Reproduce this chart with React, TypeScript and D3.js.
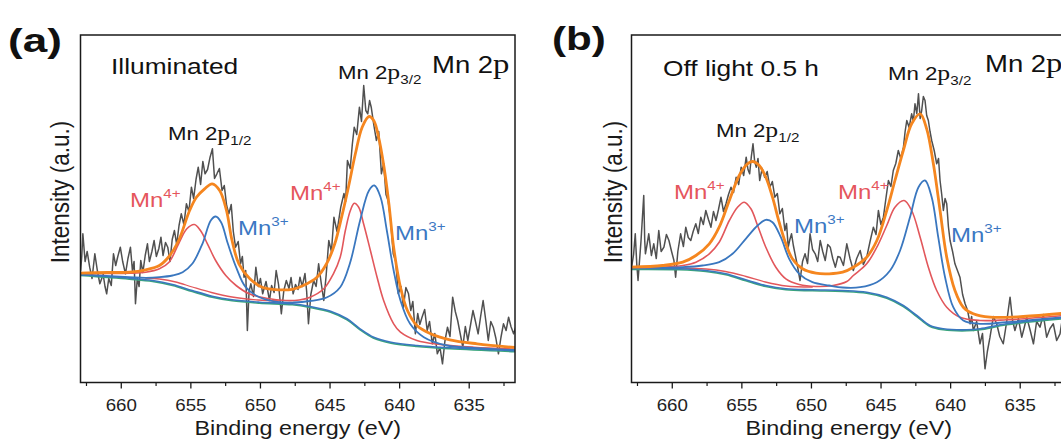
import React from "react";
import * as d3 from "d3";

type P = [number, number];

// ---------- axis ----------
const xTicks = [660, 655, 650, 645, 640, 635];
const xMinorTicks = [662.5, 657.5, 652.5, 647.5, 642.5, 637.5, 632.5];
const xDomain: [number, number] = [662.93, 631.71];
const yDomain: [number, number] = [0, 347.5];

// ---------- panel (a) Illuminated : [binding energy eV, intensity a.u.] ----------
const aRaw: P[] = [
  [662.92, 112], [662.84, 126], [662.76, 148.7], [662.6, 121], [662.45, 131], [662.27, 115.3], [662.1, 104],
  [661.9, 128.7], [661.72, 112], [661.54, 98.7], [661.3, 108], [661.17, 96], [661.05, 88.7], [660.9, 104],
  [660.72, 97], [660.56, 128.7], [660.4, 117], [660.25, 126], [660.07, 135.3], [659.9, 121], [659.7, 108.7],
  [659.52, 124], [659.34, 135.3], [659.2, 112], [659.08, 121], [658.98, 78.7], [658.85, 104], [658.72, 96],
  [658.6, 122], [658.45, 110], [658.28, 127], [658.12, 138.7], [657.98, 121], [657.8, 131], [657.64, 142],
  [657.48, 126], [657.3, 134], [657.15, 145.3], [657.0, 127], [656.82, 140], [656.66, 135.3], [656.5, 121],
  [656.34, 143], [656.18, 152], [656.02, 138], [655.85, 157], [655.69, 168.7], [655.5, 158], [655.32, 178.7],
  [655.14, 171], [654.96, 195.3], [654.8, 184], [654.63, 203], [654.47, 215.3], [654.3, 198], [654.14, 221],
  [653.98, 208.7], [653.8, 213], [653.62, 225.3], [653.45, 233.7], [653.3, 204], [653.13, 208.7], [652.95, 214],
  [652.76, 192], [652.6, 197], [652.43, 177], [652.27, 168.7], [652.1, 178], [651.95, 151], [651.79, 135.3],
  [651.6, 141], [651.43, 118.7], [651.3, 126], [651.18, 105.3], [651.06, 112], [650.94, 52], [650.82, 91],
  [650.69, 98.7], [650.5, 86], [650.33, 115.3], [650.15, 96], [650.0, 104], [649.84, 88.7], [649.6, 101],
  [649.48, 92], [649.35, 82], [649.2, 97], [649.02, 90], [648.87, 112], [648.7, 98], [648.5, 68.7], [648.32, 92],
  [648.14, 102], [647.95, 94], [647.8, 105], [647.65, 88.7], [647.48, 98], [647.3, 93], [647.16, 105.3],
  [647.0, 96], [646.8, 109], [646.68, 91], [646.55, 58.7], [646.38, 88], [646.18, 102], [646.0, 96],
  [645.82, 118.7], [645.63, 99], [645.45, 82], [645.28, 107], [645.09, 142], [644.9, 131], [644.72, 165.3],
  [644.5, 151], [644.23, 175.3], [644.0, 189], [643.88, 181], [643.75, 222], [643.55, 214], [643.4, 238],
  [643.26, 255.3], [643.08, 248], [642.89, 275.3], [642.74, 261], [642.58, 297], [642.43, 272], [642.29, 268.7],
  [642.16, 282], [642.04, 275.3], [641.86, 258], [641.67, 242], [641.5, 251], [641.31, 208.7], [641.15, 219],
  [640.98, 188], [640.83, 182], [640.65, 163], [640.46, 128.7], [640.28, 121], [640.1, 88.7], [639.9, 96],
  [639.73, 75.3], [639.55, 95], [639.36, 88.7], [639.2, 72], [639.05, 81], [638.87, 48.7], [638.7, 69],
  [638.55, 58], [638.39, 65.3], [638.2, 73], [638.02, 52], [637.85, 61], [637.65, 38.7], [637.47, 49],
  [637.29, 28.7], [637.1, 35], [636.92, 18.7], [636.75, 41], [636.56, 55.3], [636.38, 46], [636.19, 85.3],
  [636.0, 71], [635.83, 62], [635.65, 49], [635.46, 35.3], [635.28, 56], [635.1, 42], [634.9, 58], [634.73, 72],
  [634.55, 61], [634.36, 48.7], [634.18, 66], [634.0, 82], [633.8, 61], [633.63, 42], [633.45, 61], [633.27, 55.3],
  [633.08, 44], [632.9, 28.7], [632.72, 45], [632.54, 58.7], [632.35, 52], [632.17, 65.3], [632.0, 56],
  [631.81, 48.7], [631.62, 57],
];
const aEnvelope: P[] = [
  [663, 109.3], [661.0, 110], [659.42, 110.3], [658.24, 112.7], [657.26, 117], [656.57, 126], [655.88, 142],
  [655.09, 172], [654.6, 185.3], [654.01, 193.7], [653.47, 198.7], [652.93, 192], [652.44, 172], [652.04, 142],
  [651.55, 118.7], [650.76, 103.7], [649.88, 95.3], [648.7, 92.7], [647.71, 93.2], [646.92, 97], [645.94, 105.3],
  [645.25, 118.7], [644.66, 138.7], [644.17, 165.3], [643.68, 195.3], [643.18, 228.7], [642.69, 255.3],
  [642.2, 266], [641.86, 262], [641.51, 245.3], [641.12, 215.3], [640.77, 178.7], [640.43, 135.3], [639.94, 95.3],
  [639.44, 72], [638.76, 57], [637.77, 48.7], [636.39, 42.7], [634.43, 38.7], [631.7, 35],
];
const aMn4: P[] = [
  [663, 108.7], [661.0, 109], [659.42, 109.3], [658.24, 110.3], [657.26, 113.7], [656.57, 120.3], [655.88, 138.7],
  [655.29, 153.7], [654.75, 158], [654.31, 152], [653.81, 138.7], [653.22, 122], [652.49, 107], [651.75, 97],
  [650.81, 88.7], [649.58, 84.3], [648.2, 82], [647.22, 82.5], [646.43, 85.3], [645.45, 93.7], [644.76, 108.7],
  [644.27, 125.3], [643.9, 152], [643.54, 172], [643.26, 179.3], [642.94, 175.3], [642.59, 158.7], [642.1, 132],
  [641.62, 105.3], [641.15, 82], [640.43, 58.7], [639.94, 50.3], [638.76, 42], [637.08, 38], [634.67, 35.3],
  [631.7, 33.5],
];
const aMn3: P[] = [
  [663, 108], [659.42, 105.3], [658.24, 104.7], [657.26, 105.3], [656.32, 107], [655.59, 110.3], [654.9, 118.7],
  [654.17, 138.7], [653.57, 162], [653.22, 166], [652.83, 160.3], [652.34, 138.7], [651.75, 115.3], [651.06, 95.3],
  [650.07, 85.3], [648.65, 80.3], [647.61, 80], [646.43, 81.5], [645.25, 85], [644.27, 95.3], [643.58, 118.7],
  [642.84, 162], [642.2, 192], [641.81, 197], [641.37, 185.3], [640.92, 152], [640.43, 112], [639.94, 82],
  [639.25, 58.7], [638.26, 45.3], [636.59, 37], [634.43, 34.3], [631.7, 32.5],
];
const aMn4Tail: P[] = [
  [658.24, 104.5], [657.26, 103.5], [656.08, 100.5], [654.9, 95.5], [653.52, 90], [652.04, 85.5], [650.17, 82.5],
  [648.7, 81.5],
];
const aBackground: P[] = [
  [663, 108], [659.42, 104.3], [657.75, 102], [656.32, 98], [654.9, 92], [653.47, 86.3], [652.04, 82.7],
  [650.07, 80.3], [647.71, 78.7], [646.43, 76], [644.96, 71.3], [643.78, 63.7], [642.84, 53.7], [641.86, 45.3],
  [640.62, 40.3], [638.76, 37], [636.39, 34.7], [631.7, 31.8],
];

// ---------- panel (b) Off light 0.5 h ----------
const bRaw: P[] = [
  [662.92, 115.3], [662.78, 128], [662.66, 148.7], [662.55, 118], [662.46, 102], [662.25, 141], [662.05, 187],
  [661.98, 142], [661.93, 128.7], [661.8, 139], [661.69, 148.7], [661.5, 127], [661.33, 138.7], [661.15, 124],
  [660.97, 152], [660.8, 131], [660.6, 135.3], [660.42, 148], [660.24, 142], [660.05, 131], [659.88, 122],
  [659.76, 105.3], [659.6, 131], [659.4, 148.7], [659.2, 136], [659.03, 155.3], [658.85, 145], [658.67, 142],
  [658.5, 151], [658.31, 158.7], [658.13, 149], [657.95, 165.3], [657.77, 158], [657.59, 172], [657.4, 163],
  [657.22, 155.3], [657.04, 171], [656.86, 162], [656.68, 173], [656.5, 185.3], [656.32, 171], [656.14, 178.7],
  [655.96, 188], [655.78, 195.3], [655.6, 190], [655.41, 205.3], [655.23, 198], [655.05, 215.3], [654.87, 207],
  [654.69, 225.3], [654.56, 213], [654.44, 208.7], [654.32, 226], [654.2, 238.7], [654.08, 221], [653.96, 215.3],
  [653.84, 224], [653.72, 202], [653.54, 214], [653.36, 205.3], [653.18, 211], [652.99, 195.3], [652.81, 201],
  [652.63, 185.3], [652.45, 189], [652.27, 168.7], [652.09, 174], [651.91, 152], [651.79, 159], [651.67, 135.3],
  [651.55, 143], [651.43, 148.7], [651.3, 137], [651.18, 128.7], [651.0, 116], [650.82, 102], [650.64, 121],
  [650.46, 128.7], [650.28, 119], [650.1, 148.7], [649.92, 133], [649.73, 128.7], [649.55, 121], [649.37, 142],
  [649.19, 131], [649.01, 122], [648.83, 138], [648.65, 135.3], [648.47, 124], [648.28, 115.3], [648.1, 126],
  [647.94, 125.3], [647.7, 117], [647.46, 138.7], [647.23, 124], [646.99, 112], [646.75, 124], [646.5, 132],
  [646.27, 118], [646.03, 125.3], [645.79, 141], [645.55, 155.3], [645.36, 148], [645.19, 172], [645.01, 158],
  [644.83, 165.3], [644.65, 184], [644.47, 202], [644.29, 196], [644.12, 212], [643.94, 219], [643.76, 232],
  [643.58, 224], [643.39, 235.3], [643.27, 251], [643.15, 262], [642.98, 255], [642.8, 268.7], [642.68, 261],
  [642.56, 278.7], [642.43, 269], [642.31, 288.7], [642.19, 264], [642.08, 272], [641.96, 286], [641.84, 282],
  [641.72, 267], [641.6, 262], [641.48, 251], [641.36, 242], [641.18, 232], [641.0, 218.7], [640.87, 224],
  [640.76, 202], [640.64, 188], [640.52, 172], [640.4, 184], [640.28, 178.7], [640.16, 156], [640.04, 142],
  [639.86, 131], [639.69, 118.7], [639.51, 112], [639.33, 105.3], [639.14, 88], [638.96, 78.7], [638.78, 72],
  [638.6, 58.7], [638.49, 66], [638.37, 52], [638.13, 61], [637.89, 38.7], [637.71, 49], [637.53, 13.7],
  [637.36, 31], [637.17, 45.3], [636.93, 66], [636.69, 58.7], [636.47, 46], [636.22, 38.7], [635.97, 61],
  [635.73, 85.3], [635.55, 62], [635.38, 52], [635.13, 64], [634.89, 45.3], [634.71, 55], [634.53, 65.3],
  [634.28, 52], [634.05, 38.7], [633.82, 61], [633.58, 55.3], [633.34, 68], [633.1, 45.3], [632.86, 54],
  [632.62, 58.7], [632.38, 42], [632.14, 48.7], [631.98, 63], [631.83, 60], [631.71, 52],
];
const bEnvelope: P[] = [
  [663, 115.3], [660.69, 117], [659.25, 120.3], [658.3, 127], [657.34, 138.7], [656.63, 155.3], [655.9, 182],
  [655.19, 207], [654.6, 218.7], [654.24, 221], [653.75, 217], [653.28, 205.3], [652.8, 185.3], [652.32, 160.3],
  [651.84, 138.7], [651.37, 123.7], [650.64, 113.7], [649.68, 109.3], [648.73, 108.7], [647.76, 110.3],
  [646.99, 115.3], [646.03, 125.3], [645.3, 142], [644.59, 172], [644.0, 202], [643.4, 232], [642.8, 258.7],
  [642.19, 268.7], [641.72, 253.7], [641.24, 218.7], [640.76, 172], [640.28, 125.3], [639.69, 92], [639.09, 75.3],
  [638.37, 68.7], [637.17, 65.3], [634.78, 66], [631.71, 69.5],
];
const bMn4: P[] = [
  [663, 114.7], [660.69, 115.3], [659.25, 117], [658.3, 120.3], [657.34, 128.7], [656.63, 140.3], [655.9, 162],
  [655.31, 175.3], [654.83, 180.3], [654.35, 173.7], [653.87, 157], [653.28, 135.3], [652.56, 115.3],
  [651.84, 103.7], [650.88, 98], [649.68, 96], [648.45, 97], [647.46, 101], [646.99, 107], [646.03, 118.7],
  [645.3, 135.3], [644.59, 157], [644.0, 175.3], [643.34, 182], [642.8, 172], [642.19, 145.3], [641.6, 115.3],
  [641.0, 92], [640.28, 75.3], [639.33, 65.3], [637.89, 62], [635.97, 62.7], [631.71, 67.2],
];
const bMn3: P[] = [
  [663, 114.7], [660.69, 114.7], [659.25, 115.3], [657.83, 117], [656.63, 120.3], [655.67, 128.7], [654.72, 143.7],
  [653.87, 157], [653.28, 162.7], [652.8, 160.3], [652.2, 145.3], [651.6, 123.7], [650.88, 108.7], [649.93, 100.3],
  [648.73, 97], [647.76, 95], [646.5, 95.3], [645.3, 100.3], [644.35, 112], [643.63, 132], [642.92, 165.3],
  [642.31, 195.3], [641.84, 202], [641.36, 185.3], [640.89, 145.3], [640.4, 105.3], [639.81, 75.3], [639.09, 62],
  [637.89, 58.7], [635.97, 60.3], [631.71, 65.5],
];
const bMn4Tail: P[] = [
  [659.55, 114.5], [657.57, 113.5], [656.18, 111], [654.7, 106], [653.31, 100.5], [651.82, 96.5], [649.94, 95.5],
];
const bBackground: P[] = [
  [663, 114], [659.5, 113.7], [657.59, 112], [656.15, 108.7], [654.72, 102.7], [653.28, 97], [651.84, 93.7],
  [649.93, 92.7], [647.76, 92], [646.03, 90.3], [644.59, 85.3], [643.4, 77], [642.43, 67], [641.48, 57],
  [640.53, 53.7], [638.84, 52.7], [637.89, 53.7], [635.97, 58.7], [631.71, 65],
];

// ---------- styling ----------
const SX = 1.17;
const SANS = "'Liberation Sans', Arial, Helvetica, sans-serif";
const SERIF = "'Liberation Serif', 'Times New Roman', serif";
const C_RAW = "#505050";
const C_FIT = "#f5861f";
const C_MN4 = "#e2575b";
const C_MN3 = "#3a77bf";
const C_BG2 = "#3aa57c";
const C_LBL4 = "#e5565c";
const C_LBL3 = "#3b78c3";

const TOP = 35;
const BOTTOM = 382.5;

type LabelPos = [number, number];
interface PanelCfg {
  id: string;
  left: number;
  right: number;
  tag: string;
  tagPos: LabelPos;
  cond: string;
  condPos: LabelPos;
  titlePos: LabelPos;
  p32Pos: LabelPos;
  p12Pos: LabelPos;
  mn4aPos: LabelPos;
  mn3aPos: LabelPos;
  mn4bPos: LabelPos;
  mn3bPos: LabelPos;
  yTitleX: number;
  raw: P[];
  env: P[];
  mn4: P[];
  mn3: P[];
  tail: P[];
  bg: P[];
}

function S({ x, y, children, rotate }: { x: number; y: number; children: React.ReactNode; rotate?: boolean }) {
  return (
    <g transform={`translate(${x},${y}) scale(${SX},1)${rotate ? " rotate(-90)" : ""}`}>{children}</g>
  );
}

function Spec({ pos, sub }: { pos: LabelPos; sub: string }) {
  return (
    <S x={pos[0]} y={pos[1]}>
      <text fontFamily={SANS} fontSize={19} fill="#151515">
        <tspan>Mn 2</tspan>
        <tspan fontFamily={SERIF} fontSize={22}>p</tspan>
        <tspan fontSize={13} dy={5}>{sub}</tspan>
      </text>
    </S>
  );
}

function Ion({ pos, charge, color }: { pos: LabelPos; charge: string; color: string }) {
  return (
    <S x={pos[0]} y={pos[1]}>
      <text fontFamily={SANS} fontSize={20.5} fill={color}>
        <tspan>Mn</tspan>
        <tspan fontSize={13} dy={-9}>{charge}</tspan>
      </text>
    </S>
  );
}

function Panel({ c }: { c: PanelCfg }) {
  const x = d3.scaleLinear().domain(xDomain).range([c.left, c.right]);
  const y = d3.scaleLinear().domain(yDomain).range([BOTTOM, TOP]);
  const smooth = d3.line<P>().x((d) => x(d[0])).y((d) => y(d[1])).curve(d3.curveCatmullRom.alpha(0.5));
  const jag = d3.line<P>().x((d) => x(d[0])).y((d) => y(d[1]));
  const clip = `clip-${c.id}`;
  return (
    <g>
      <defs>
        <clipPath id={clip}>
          <rect x={c.left} y={TOP} width={c.right - c.left} height={BOTTOM - TOP} />
        </clipPath>
      </defs>
      <g clipPath={`url(#${clip})`} fill="none" strokeLinejoin="round" strokeLinecap="round">
        <path d={jag(c.raw) || ""} stroke={C_RAW} strokeWidth={1.5} />
        <path d={smooth(c.bg) || ""} stroke={C_BG2} strokeWidth={1.6} transform="translate(0,1)" />
        <path d={smooth(c.tail) || ""} stroke={C_MN4} strokeWidth={1.3} />
        <path d={smooth(c.bg) || ""} stroke={C_MN3} strokeWidth={1.6} />
        <path d={smooth(c.mn4) || ""} stroke={C_MN4} strokeWidth={1.6} />
        <path d={smooth(c.mn3) || ""} stroke={C_MN3} strokeWidth={1.8} />
        <path d={smooth(c.env) || ""} stroke={C_FIT} strokeWidth={2.8} />
      </g>
      <rect x={c.left} y={TOP} width={c.right - c.left} height={BOTTOM - TOP} fill="none" stroke="#1a1a1a" strokeWidth={1.5} />
      {xTicks.map((t) => (
        <line key={`M${t}`} x1={x(t)} x2={x(t)} y1={BOTTOM} y2={BOTTOM + 6} stroke="#1a1a1a" strokeWidth={1.3} />
      ))}
      {xMinorTicks.map((t) => (
        <line key={`m${t}`} x1={x(t)} x2={x(t)} y1={BOTTOM} y2={BOTTOM + 3.5} stroke="#1a1a1a" strokeWidth={1.2} />
      ))}
      {xTicks.map((t) => (
        <S key={`L${t}`} x={x(t)} y={410.5}>
          <text fontFamily={SANS} fontSize={16} textAnchor="middle" fill="#222">{t}</text>
        </S>
      ))}
      <S x={(c.left + c.right) / 2} y={435}>
        <text fontFamily={SANS} fontSize={20} textAnchor="middle" fill="#1a1a1a">Binding energy (eV)</text>
      </S>
      <S x={c.yTitleX} y={192} rotate>
        <text fontFamily={SANS} fontSize={22.5} textAnchor="middle" fill="#1a1a1a">Intensity (a.u.)</text>
      </S>
      <S x={c.tagPos[0]} y={c.tagPos[1]}>
        <text fontFamily={SANS} fontSize={34} fontWeight="bold" fill="#111" textLength={46} lengthAdjust="spacingAndGlyphs">{c.tag}</text>
      </S>
      <S x={c.condPos[0]} y={c.condPos[1]}>
        <text fontFamily={SANS} fontSize={22.5} fill="#111">{c.cond}</text>
      </S>
      <S x={c.titlePos[0]} y={c.titlePos[1]}>
        <text fontFamily={SANS} fontSize={23.5} fill="#111">
          <tspan>Mn 2</tspan>
          <tspan fontFamily={SERIF} fontSize={28}>p</tspan>
        </text>
      </S>
      <Spec pos={c.p32Pos} sub="3/2" />
      <Spec pos={c.p12Pos} sub="1/2" />
      <Ion pos={c.mn4aPos} charge="4+" color={C_LBL4} />
      <Ion pos={c.mn3aPos} charge="3+" color={C_LBL3} />
      <Ion pos={c.mn4bPos} charge="4+" color={C_LBL4} />
      <Ion pos={c.mn3bPos} charge="3+" color={C_LBL3} />
    </g>
  );
}

const panels: PanelCfg[] = [
  {
    id: "a", left: 80.5, right: 515, tag: "(a)", tagPos: [8, 52], cond: "Illuminated", condPos: [111, 73.5],
    titlePos: [432, 73], p32Pos: [338, 78.5], p12Pos: [168, 140], mn4aPos: [130, 207], mn3aPos: [238, 235],
    mn4bPos: [290, 200], mn3bPos: [395, 240], yTitleX: 69,
    raw: aRaw, env: aEnvelope, mn4: aMn4, mn3: aMn3, tail: aMn4Tail, bg: aBackground,
  },
  {
    id: "b", left: 631.5, right: 1066, tag: "(b)", tagPos: [552, 50], cond: "Off light 0.5 h", condPos: [663, 76],
    titlePos: [985, 72], p32Pos: [888, 80], p12Pos: [716, 137], mn4aPos: [674, 199], mn3aPos: [794, 233],
    mn4bPos: [838, 199], mn3bPos: [951, 242], yTitleX: 622,
    raw: bRaw, env: bEnvelope, mn4: bMn4, mn3: bMn3, tail: bMn4Tail, bg: bBackground,
  },
];

export default function App() {
  return (
    <svg
      width={1061}
      height={440}
      viewBox="0 0 1061 440"
      style={{ position: "absolute", left: 0, top: 0, background: "#fff" }}
    >
      {panels.map((p) => (
        <Panel key={p.id} c={p} />
      ))}
    </svg>
  );
}
